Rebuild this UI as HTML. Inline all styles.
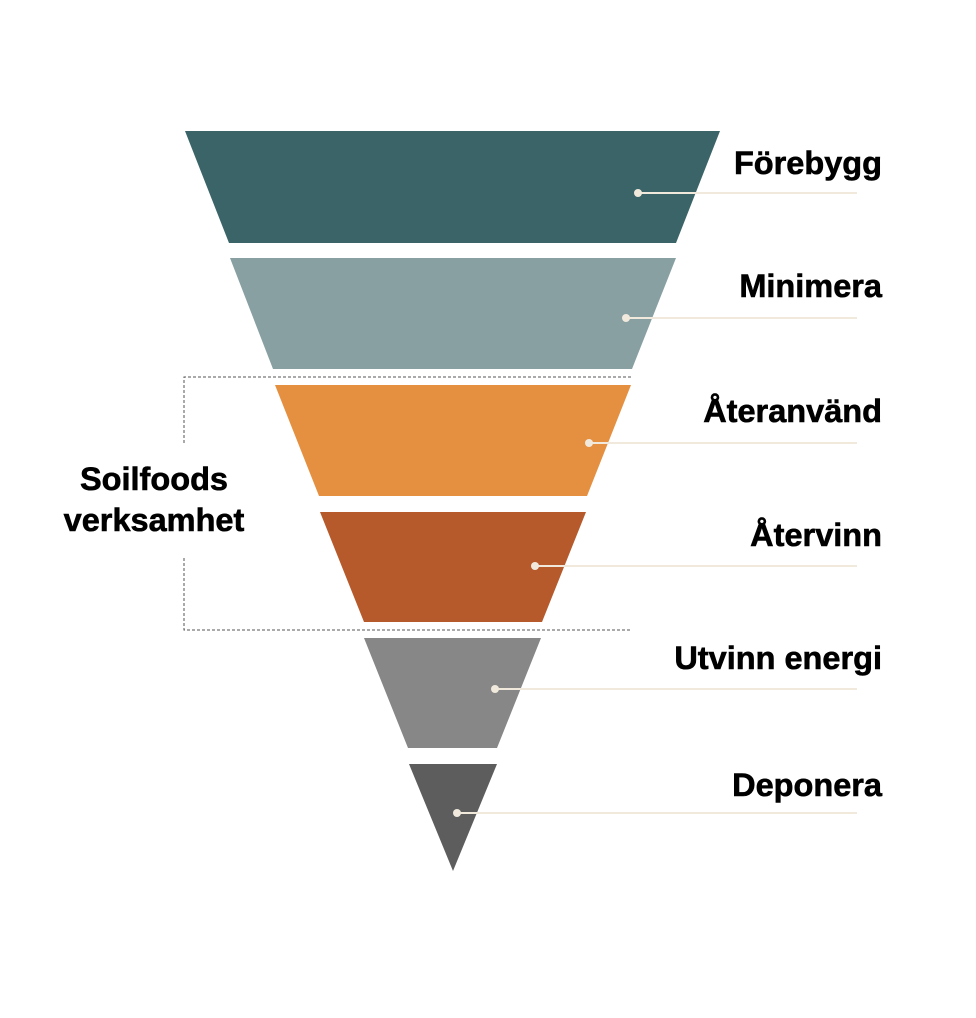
<!DOCTYPE html>
<html><head><meta charset="utf-8"><style>
html,body{margin:0;padding:0;background:#fff;}
svg{display:block}
text{font-family:"Liberation Sans",Arial,sans-serif;font-weight:bold;fill:#000;stroke:#000;stroke-width:0.6;}
</style></head><body>
<svg width="976" height="1018" viewBox="0 0 976 1018" xmlns="http://www.w3.org/2000/svg">
<polygon points="185,131 720,131 676,243 229,243" fill="#3a6468"/>
<polygon points="230,258 676,258 632,369 273,369" fill="#88a0a2"/>
<polygon points="275,385 631,385 587,496 319,496" fill="#e59040"/>
<polygon points="320,512 586,512 542,622 364,622" fill="#b65a2b"/>
<polygon points="364,638 541,638 497,748 408,748" fill="#878787"/>
<polygon points="409,764 497,764 453,871" fill="#5d5d5d"/>
<g stroke="#f0e9dc" stroke-width="2">
<line x1="638" y1="193" x2="857" y2="193"/>
<line x1="626" y1="318" x2="857" y2="318"/>
<line x1="589" y1="443" x2="857" y2="443"/>
<line x1="535" y1="566" x2="857" y2="566"/>
<line x1="495" y1="689" x2="857" y2="689"/>
<line x1="457" y1="813" x2="857" y2="813"/>
</g>
<g fill="#f0e9dc">
<circle cx="638" cy="193" r="4"/><circle cx="626" cy="318" r="4"/><circle cx="589" cy="443" r="4"/>
<circle cx="535" cy="566" r="4"/><circle cx="495" cy="689" r="4"/><circle cx="457" cy="813" r="4"/>
</g>
<g stroke="#555" stroke-width="1" stroke-dasharray="3,2" fill="none">
<polyline points="631,377 184,377 184,445"/>
<polyline points="184,558 184,630 631,630"/>
</g>
<g font-size="32.5" text-anchor="end">
<text x="882" y="174">Förebygg</text>
<text x="882" y="297">Minimera</text>
<text x="882" y="422">Återanvänd</text>
<text x="882" y="546">Återvinn</text>
<text x="882" y="669">Utvinn energi</text>
<text x="882" y="796">Deponera</text>
</g>
<g font-size="32.5" text-anchor="middle">
<text x="154" y="490">Soilfoods</text>
<text x="154" y="531">verksamhet</text>
</g>
</svg>
</body></html>
